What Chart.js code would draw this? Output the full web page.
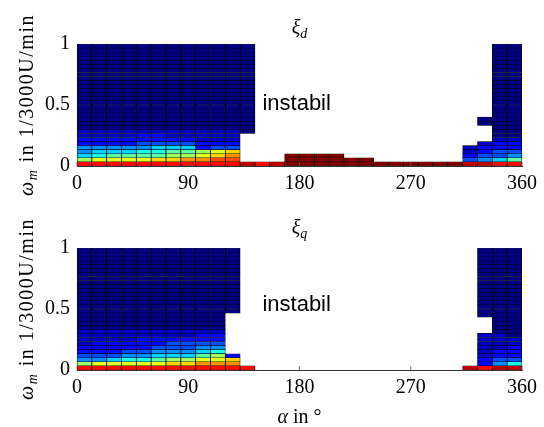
<!DOCTYPE html>
<html>
<head>
<meta charset="utf-8">
<script src="https://cdn.jsdelivr.net/npm/chart.js@4.4.0/dist/chart.umd.min.js"></script>
<style>
  html, body { margin: 0; padding: 0; background: #fff; }
  #wrap { position: relative; width: 544px; height: 427px; overflow: hidden; }
  #wrap canvas { position: absolute; left: 0; }
  .lbl { position: absolute; font-family: "Liberation Serif", serif; font-size: 20px; line-height: 20px; white-space: nowrap; color: #000; }
  .lbl sub { font-size: 70%; vertical-align: -0.3em; line-height: 0; }
  .ttl { transform: translateX(-50%); }
  .ylab { transform: translate(-50%, -50%) rotate(-90deg); letter-spacing: 1.5px; }
</style>
</head>
<body>
<div id="wrap">
  <canvas id="chartD" width="544" height="205" style="top:0"></canvas>
  <canvas id="chartQ" width="544" height="222" style="top:205px"></canvas>
  <div class="lbl ttl" style="left:299.5px;top:17px"><i>ξ</i><sub><i>d</i></sub></div>
  <div class="lbl ttl" style="left:299.5px;top:217px"><i>ξ</i><sub><i>q</i></sub></div>
  <div class="lbl ylab" style="left:26px;top:105px"><i>ω</i><sub><i>m</i></sub> in 1/3000U/min</div>
  <div class="lbl ylab" style="left:26px;top:309px"><i>ω</i><sub><i>m</i></sub> in 1/3000U/min</div>
  <div class="lbl ttl" style="left:299.5px;top:406px"><i>α</i> in °</div>
</div>
<script>
// Gitter: linke Zellkante in Grad, untere Zellkante in 1/3000U/min
const alphaCells = [0, 12, 24, 36, 48, 60, 72, 84, 96, 108, 120, 132, 144, 156, 168,
  180, 192, 204, 216, 228, 240, 252, 264, 276, 288, 300, 312, 324, 336, 348];
const omegaCells = [0/30, 1/30, 2/30, 3/30, 4/30, 5/30, 6/30, 7/30, 8/30, 9/30,
  10/30, 11/30, 12/30, 13/30, 14/30, 15/30, 16/30, 17/30, 18/30, 19/30,
  20/30, 21/30, 22/30, 23/30, 24/30, 25/30, 26/30, 27/30, 28/30, 29/30];
const xTicks = [0, 90, 180, 270, 360];
const yTicks = [0, 0.5, 1];

// Daempfung je Zelle (0..f = 0..1), '.' = instabil / keine Zelle
// erste Zeile = oberste omega-Zeile
const xiD = [
  "000000000000................00",
  "000000000000................00",
  "000000000000................00",
  "000000000000................00",
  "000000000000................00",
  "000000000000................00",
  "000000000000................00",
  "000000000000................00",
  "000000000000................00",
  "000000000000................00",
  "000000000000................00",
  "000000000000................00",
  "000000000000................00",
  "000000000000................00",
  "000000000000................00",
  "000000000000................00",
  "000000000000................00",
  "000000000000................00",
  "000000000000...............000",
  "000000000000...............000",
  "000000000000................00",
  "111111111110................00",
  "11112211111.................00",
  "22222222111.................11",
  "22223333222................122",
  "44444555233...............1222",
  "4555667789a...............1233",
  "567777889ab...ffff........2334",
  "89999aabbcc...ffffff......3457",
  "dddddddddddedeffffffffffffeedd"
];
const xiQ = [
  "00000000000................000",
  "00000000000................000",
  "00000000000................000",
  "00000000000................000",
  "00000000000................000",
  "00000000000................000",
  "00000000000................000",
  "00000000000................000",
  "00000000000................000",
  "00000000000................000",
  "00000000000................000",
  "00000000000................000",
  "00000000000................000",
  "00000000000................000",
  "00000000000................000",
  "00000000000................000",
  "0000000000.................000",
  "0000000000..................00",
  "0000000000..................00",
  "0000000000..................00",
  "1111111111..................00",
  "1111111122.................110",
  "1111222222.................111",
  "1222223333.................111",
  "2222233344.................112",
  "2223344456.................122",
  "33344555782................122",
  "4456678899a................233",
  "899999aabbb................246",
  "dddddddddddd..............edee"
];

Chart.defaults.font.family = '"Liberation Serif", serif';
Chart.defaults.font.size = 20;
Chart.defaults.color = '#000';

function jet(v) {
  const c = t => Math.round(255 * Math.max(0, Math.min(1, t)));
  const r = c(1.5 - Math.abs(4 * v - 3));
  const g = c(1.5 - Math.abs(4 * v - 2));
  const b = c(1.5 - Math.abs(4 * v - 1));
  return 'rgb(' + r + ',' + g + ',' + b + ')';
}

// eine Bar-Serie pro omega-Zeile, schwebende Balken [unten, oben]
function cellDatasets(levels) {
  const n = omegaCells.length;
  const half = (alphaCells[1] - alphaCells[0]) / 2;
  return omegaCells.map((lo, r) => {
    const hi = r + 1 < n ? omegaCells[r + 1] : 1;
    const row = levels[n - 1 - r];
    const pts = [];
    const cols = [];
    alphaCells.forEach((a, c) => {
      if (row[c] === '.') return;
      pts.push({ x: a + half, y: [lo, hi] });
      cols.push(jet(parseInt(row[c], 16) / 15));
    });
    return {
      data: pts,
      backgroundColor: cols,
      borderColor: '#000',
      borderWidth: { left: 0.75, right: 0.75, top: 0.5, bottom: 0.5 },
      borderSkipped: false,
      grouped: false,
      barPercentage: 1,
      categoryPercentage: 1
    };
  });
}

// kurze Striche nach innen wie bei MATLAB + Text "instabil"
const innerTicks = {
  id: 'innerTicks',
  afterDatasetsDraw(chart, args, opts) {
    const { ctx, chartArea, scales: { x, y } } = chart;
    ctx.save();
    ctx.strokeStyle = '#555';
    ctx.lineWidth = 0.8;
    ctx.beginPath();
    x.ticks.forEach(t => {
      const px = x.getPixelForValue(t.value);
      ctx.moveTo(px, chartArea.bottom);
      ctx.lineTo(px, chartArea.bottom - 4);
    });
    ctx.stroke();
    ctx.font = '22px "Liberation Sans", Arial, sans-serif';
    ctx.fillStyle = '#000';
    ctx.textBaseline = 'alphabetic';
    ctx.fillText(opts.text, x.getPixelForValue(opts.at[0]), y.getPixelForValue(opts.at[1]));
    ctx.restore();
  }
};

function makeChart(id, levels, topPad, xHeight, textAt) {
  return new Chart(document.getElementById(id), {
    type: 'bar',
    data: { datasets: cellDatasets(levels) },
    plugins: [innerTicks],
    options: {
      responsive: false,
      animation: false,
      layout: { padding: { top: topPad, right: 22, left: 0, bottom: 0 } },
      plugins: {
        legend: { display: false },
        tooltip: { enabled: false },
        innerTicks: { text: 'instabil', at: textAt }
      },
      scales: {
        x: {
          type: 'linear',
          min: 0,
          max: 360,
          offset: false,
          grid: { display: false, offset: false, drawTicks: false },
          border: { display: true, color: '#333', width: 1 },
          afterBuildTicks: s => { s.ticks = xTicks.map(v => ({ value: v })); },
          ticks: { padding: 6, autoSkip: false, maxRotation: 0 },
          afterFit: s => { s.height = xHeight; }
        },
        y: {
          min: 0,
          max: 1,
          grid: { display: false, drawTicks: false },
          border: { display: true, color: '#333', width: 1 },
          afterBuildTicks: s => { s.ticks = yTicks.map(v => ({ value: v })); },
          ticks: { padding: 7, callback: v => String(v) },
          afterFit: s => { s.width = 77; }
        }
      }
    }
  });
}

makeChart('chartD', xiD, 44, 39, [150, 0.46]);
makeChart('chartQ', xiQ, 43, 57, [150, 0.48]);
</script>
</body>
</html>
